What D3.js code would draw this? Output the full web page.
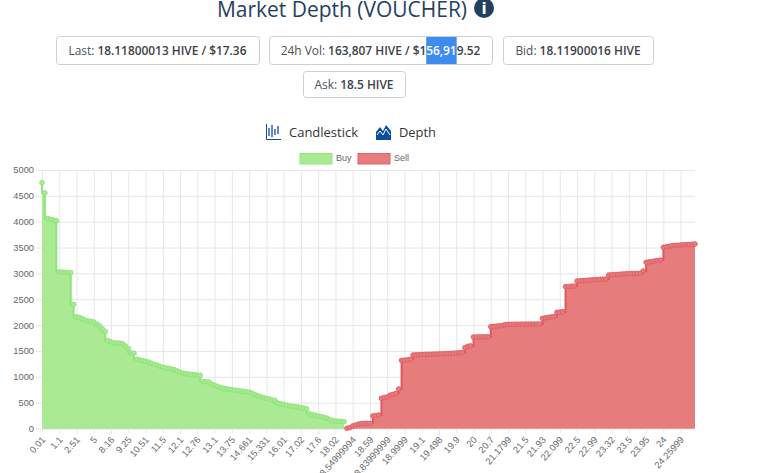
<!DOCTYPE html>
<html>
<head>
	<meta charset="utf-8">
	<title>Market Depth (VOUCHER)</title>
	<script src="https://d3js.org/d3.v7.min.js"></script>
	<style>
		html, body{ margin: 0; padding: 0; background: #fff; overflow: hidden; }
		svg{ display: block; }
		.chip text{ font-family: "Open Sans", sans-serif; font-size: 11.9px; fill: #495057; }
		.chip .val{ font-weight: 600; fill: #3c4248; }
		.axis text{ font-family: "Liberation Sans", Arial, sans-serif; font-size: 9.3px; fill: #666; }
		.axis path{ display: none; }
		.axis line{ stroke: #e7e7e7; }
	</style>
</head>

<body>
	<script>
		var width = 761, height = 473;

		var title = "Market Depth (VOUCHER)";

		var tickLabels = ["0.01", "1.1", "2.51", "5", "8.16", "9.25", "10.51", "11.5", "12.1", "12.76",
			"13.1", "13.75", "14.661", "15.331", "16.01", "17.02", "17.6", "18.02", "18.54999994", "18.59",
			"18.83999999", "18.9999", "19.1", "19.498", "19.9", "20", "20.7", "21.1799", "21.5", "21.93",
			"22.099", "22.5", "22.99", "23.32", "23.5", "23.95", "24", "24.25999"];

		// cumulative depth per order book row
		var buyDepth = [4753, 4555, 4060, 4045, 4030, 4020, 3030, 3025, 3020, 3018,
			3015, 2400, 2160, 2150, 2125, 2095, 2080, 2072, 2062, 2020,
			1985, 1925, 1873, 1699, 1675, 1658, 1652, 1650, 1640, 1595,
			1550, 1460, 1456, 1340, 1325, 1312, 1298, 1285, 1262, 1240,
			1225, 1205, 1185, 1175, 1162, 1150, 1138, 1115, 1090, 1068,
			1060, 1052, 1045, 1040, 1035, 1028, 906, 905, 900, 860,
			835, 815, 795, 777, 768, 758, 750, 742, 735, 726,
			718, 710, 702, 680, 658, 632, 612, 597, 582, 568,
			552, 540, 490, 478, 465, 450, 438, 430, 422, 414,
			405, 392, 378, 285, 268, 255, 242, 230, 215, 200,
			175, 152, 146, 141, 137, 132];

		var sellDepth = [5, 15, 48, 65, 85, 95, 100, 100, 100, 242,
			250, 261, 584, 600, 610, 645, 660, 680, 764, 1318,
			1322, 1328, 1338, 1422, 1425, 1428, 1430, 1432, 1434, 1436,
			1438, 1440, 1442, 1445, 1448, 1450, 1453, 1456, 1460, 1463,
			1467, 1563, 1590, 1598, 1770, 1770, 1772, 1772, 1773, 1775,
			1970, 1975, 1980, 1985, 1990, 2012, 2015, 2016, 2017, 2018,
			2018, 2019, 2019, 2020, 2020, 2021, 2021, 2022, 2130, 2140,
			2150, 2158, 2165, 2247, 2252, 2260, 2743, 2748, 2752, 2756,
			2853, 2858, 2862, 2866, 2870, 2874, 2878, 2882, 2885, 2888,
			2891, 2969, 2973, 2977, 2981, 2985, 2989, 2993, 2997, 2999,
			3000, 3001, 3003, 3046, 3214, 3222, 3230, 3240, 3250, 3259,
			3504, 3515, 3525, 3535, 3540, 3545, 3550, 3555, 3558, 3561,
			3565, 3568];

		var rowCount = buyDepth.length + sellDepth.length;
		var skip = 6;

		var svg = d3.select("body").append("svg")
					.attr("width", width).attr("height", height);

		var x = d3.scalePoint().domain(d3.range(rowCount)).range([42, 695]);
		var y = d3.scaleLinear().domain([0, 5000]).range([428.5, 170]);

		// header
		svg.append("text").text(title)
			.attr("x", 342).attr("y", 16.5)
			.attr("text-anchor", "middle")
			.attr("textLength", 250)
			.attr("lengthAdjust", "spacingAndGlyphs")
			.style("font-family", "'Open Sans', sans-serif")
			.style("font-size", "22px")
			.style("fill", "#23415f");

		svg.append("circle").attr("cx", 484).attr("cy", 8).attr("r", 10).attr("fill", "#23415f");
		svg.append("text").text("i")
			.attr("x", 484).attr("y", 14)
			.attr("text-anchor", "middle")
			.style("font-family", "'DejaVu Sans', sans-serif")
			.style("font-weight", "bold")
			.style("font-size", "15px")
			.style("fill", "#fff");

		// stat chips
		var chips = [
			{x: 56, y: 36, w: 203, h: 28, label: "Last: ", value: "18.11800013 HIVE / $17.36"},
			{x: 269, y: 36, w: 223, h: 28, label: "24h Vol: ", value: "163,807 HIVE / $156,919.52"},
			{x: 503, y: 36, w: 150, h: 28, label: "Bid: ", value: "18.11900016 HIVE"},
			{x: 303, y: 71, w: 102, h: 26, label: "Ask: ", value: "18.5 HIVE"}
		];

		chips.forEach(function(c){
			var g = svg.append("g").attr("class", "chip");
			g.append("rect")
				.attr("x", c.x + 0.5).attr("y", c.y + 0.5)
				.attr("width", c.w).attr("height", c.h)
				.attr("rx", 3)
				.attr("fill", "#fff").attr("stroke", "#cfcfcf");

			var t = g.append("text")
				.attr("x", c.x + c.w / 2).attr("y", c.y + c.h / 2 + 5)
				.attr("text-anchor", "middle");
			t.append("tspan").text(c.label);
			var v = t.append("tspan").attr("class", "val").text(c.value);

			// the reference has part of the volume selected
			var sel = c.value.indexOf("56,91");
			if (sel >= 0){
				var n = t.node(), from = c.label.length + sel;
				var x0 = n.getStartPositionOfChar(from).x;
				var x1 = n.getEndPositionOfChar(from + 4).x;
				g.insert("rect", "text")
					.attr("x", x0).attr("y", c.y + 1)
					.attr("width", x1 - x0).attr("height", c.h - 1)
					.attr("fill", "#3b8bf0");
				v.text(null);
				v.append("tspan").text(c.value.slice(0, sel));
				v.append("tspan").style("fill", "#fff").text("56,91");
				v.append("tspan").text(c.value.slice(sel + 5));
			}
		});

		// chart type switch
		var blue = "#0b4ea2";
		var icon1 = svg.append("g").attr("transform", "translate(266, 124)");
		icon1.append("path").attr("d", "M0.5,0 V15.5 H15").attr("fill", "none").attr("stroke", blue);
		icon1.selectAll("line").data([[3, 4, 12], [6, 1, 13], [9, 5, 11], [12, 2, 10]])
			.enter().append("line")
			.attr("x1", function(d){return d[0];}).attr("x2", function(d){return d[0];})
			.attr("y1", function(d){return d[1];}).attr("y2", function(d){return d[2];})
			.attr("stroke", blue).attr("stroke-width", 1.3);

		var icon2 = svg.append("g").attr("transform", "translate(376, 124)");
		icon2.append("path").attr("d", "M0,16 V8 L4,3 L7,7 L10,1 L15,7 V16 Z").attr("fill", blue);
		icon2.append("path").attr("d", "M1,11 L4,7 L7,11 L10,5 L14,11").attr("fill", "none").attr("stroke", "#fff");

		svg.selectAll("text.switch").data([["Candlestick", 289, 69], ["Depth", 399, 37]])
			.enter().append("text").attr("class", "switch")
			.text(function(d){return d[0];})
			.attr("x", function(d){return d[1];}).attr("y", 137)
			.attr("textLength", function(d){return d[2];})
			.attr("lengthAdjust", "spacingAndGlyphs")
			.style("font-family", "'Open Sans', sans-serif")
			.style("font-size", "13.5px")
			.style("fill", "#333");

		// legend
		var legend = [["Buy", 300, "#a9ea92", "#8fe57a"], ["Sell", 358, "#e77c7c", "#e0616a"]];
		legend.forEach(function(l){
			svg.append("rect")
				.attr("x", l[1]).attr("y", 153.5)
				.attr("width", 32).attr("height", 10.5)
				.attr("fill", l[2]).attr("stroke", l[3]);
			svg.append("text").text(l[0])
				.attr("x", l[1] + 36).attr("y", 161)
				.style("font-family", "'Liberation Sans', Arial, sans-serif")
				.style("font-size", "9px")
				.style("fill", "#666");
		});

		// axes and grid
		svg.append("g").attr("class", "axis")
			.attr("transform", "translate(42, 0)")
			.call(d3.axisLeft(y).tickValues(d3.range(0, 5001, 500))
				.tickSize(6).tickPadding(2).tickFormat(d3.format("d")))
			.call(function(g){
				g.selectAll(".tick").append("line")
					.attr("x2", 653);
			});

		var xAxis = svg.append("g").attr("class", "axis")
			.attr("transform", "translate(0, 428.5)")
			.call(d3.axisBottom(x).tickValues(d3.range(0, rowCount, skip))
				.tickSize(5).tickPadding(3)
				.tickFormat(function(d, i){return tickLabels[i];}));

		xAxis.selectAll(".tick").append("line").attr("y2", -258.5);
		xAxis.selectAll(".tick text")
			.attr("text-anchor", "end")
			.attr("x", 1).attr("y", 9.5).attr("dy", "0.35em")
			.attr("transform", "rotate(-48 1 9.5)");

		svg.append("line")
			.attr("x1", 42).attr("x2", 695)
			.attr("y1", 428.5).attr("y2", 428.5)
			.attr("stroke", "#cfcfcf");

		// depth series
		function drawSide(values, offset, curve, fill, stroke, dotFill, dotStroke){
			var area = d3.area()
				.curve(curve)
				.x(function(d, i){return x(i + offset);})
				.y0(y(0))
				.y1(function(d){return y(d);});
			var line = d3.line()
				.curve(curve)
				.x(function(d, i){return x(i + offset);})
				.y(function(d){return y(d);});

			svg.append("path").attr("d", area(values)).attr("fill", fill);
			svg.append("path").attr("d", line(values))
				.attr("fill", "none").attr("stroke", stroke).attr("stroke-width", 2);
			svg.append("g").selectAll("circle").data(values)
				.enter().append("circle")
				.attr("cx", function(d, i){return x(i + offset);})
				.attr("cy", function(d){return y(d);})
				.attr("r", 2.3)
				.attr("fill", dotFill).attr("stroke", dotStroke);
		}

		drawSide(sellDepth, buyDepth.length, d3.curveStepAfter, "#e77c7c", "#e0555f", "#e77c7c", "#e0616a");
		drawSide(buyDepth, 0, d3.curveStepBefore, "#a9ea92", "#8fe57a", "#a9ea92", "#8fe57a");
	</script>
</body>

</html>
